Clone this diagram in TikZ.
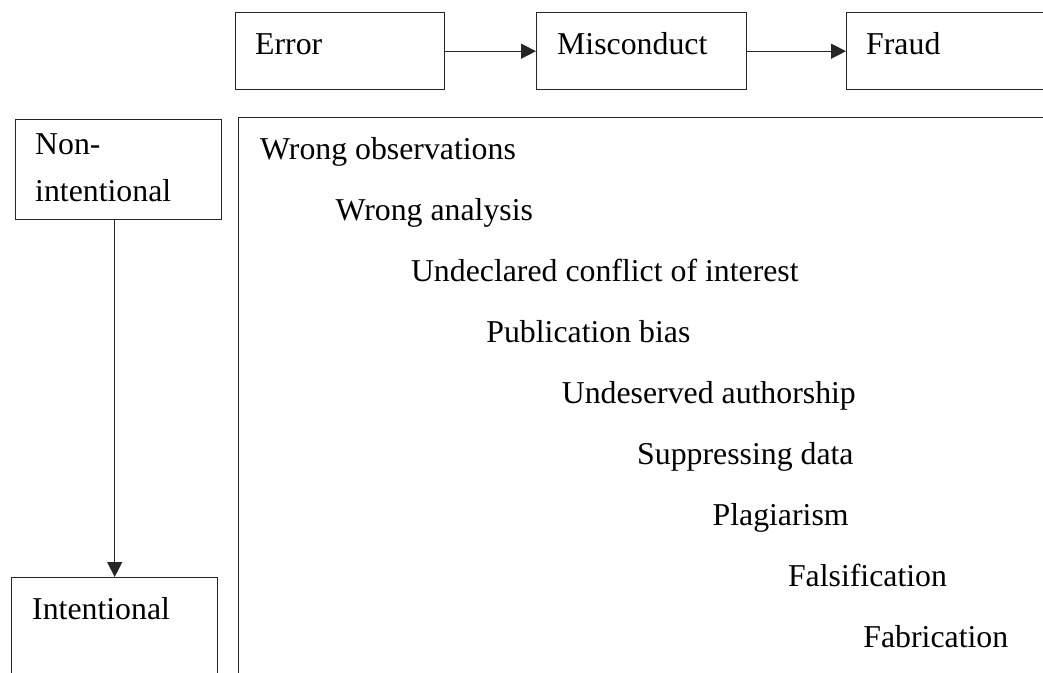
\documentclass[tikz,border=0pt]{standalone}
\usepackage{fontspec}
\setmainfont{Liberation Serif}
\usetikzlibrary{arrows.meta}
\begin{document}
\begin{tikzpicture}[x=1pt,y=-1pt,
  frame/.style={draw=black!85, line width=1.4pt, rectangle, inner sep=0pt, anchor=north west},
  word/.style={anchor=base west, inner sep=0pt, font=\fontsize{31.8}{36}\selectfont},
  arr/.style={draw=black!85, line width=1.4pt, -{Triangle[length=15pt,width=15pt]}}]
\useasboundingbox (0,0) rectangle (1043,672);
\clip (0,0) rectangle (1043,672);

% top row: escalation from error to fraud
\node[frame, minimum width=209pt, minimum height=77pt] (error) at (235,12) {};
\node[frame, minimum width=210pt, minimum height=77pt] (misc) at (536,12) {};
\node[frame, minimum width=210pt, minimum height=77pt] (fraud) at (846,12) {};
\node[word] (errorT) at (255,54) {Error};
\node[word] (miscT) at (557,54) {Misconduct};
\node[word] (fraudT) at (866,54) {Fraud};
\draw[arr] (error.east) -- (misc.west);
\draw[arr] (misc.east) -- (fraud.west);

% left column: intention axis
\node[frame, minimum width=206pt, minimum height=100pt] (nonint) at (15,119) {};
\node[frame, minimum width=206pt, minimum height=130pt] (intent) at (11,577) {};
\node[word] (nonA) at (35,154) {Non-};
\node[word] (nonB) at (35,201) {intentional};
\node[word] (intentT) at (32,619) {Intentional};
\draw[arr] (nonint.south -| intent.north) -- (intent.north);

% main panel with the graded list of behaviours
\node[frame, minimum width=900pt, minimum height=700pt] (panel) at (237.5,117) {};
\foreach \t [count=\i from 0] in {Wrong observations, Wrong analysis,
    Undeclared conflict of interest, Publication bias, Undeserved authorship,
    Suppressing data, Plagiarism, Falsification, Fabrication}
  \node[word] (item\i) at (260+75.4*\i, 159+61.1*\i) {\t};
\end{tikzpicture}
\end{document}
